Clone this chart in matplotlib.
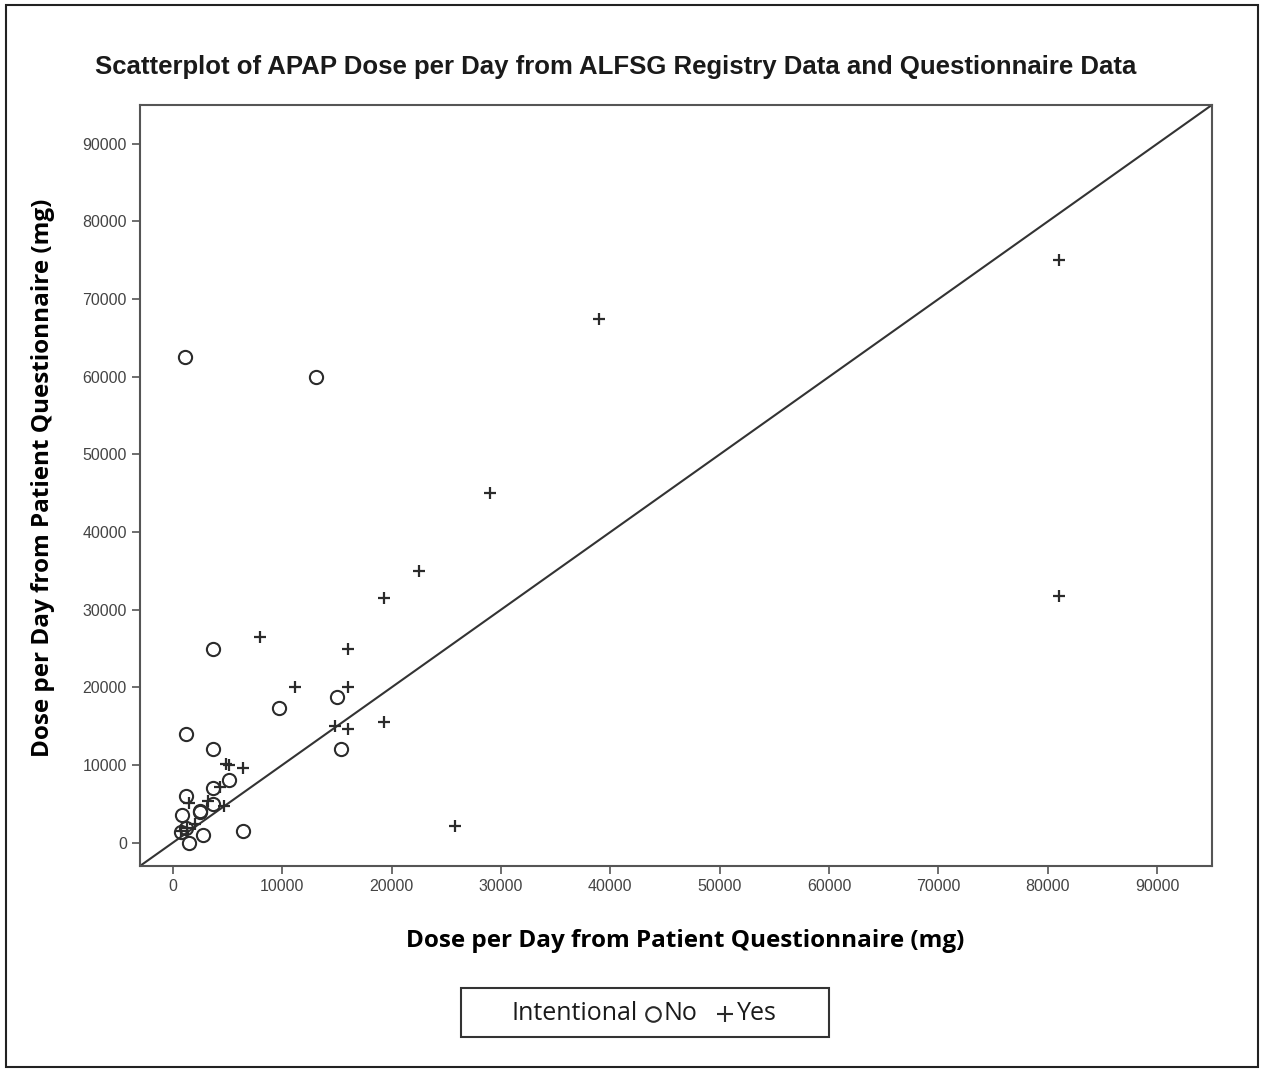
"""
Scatterplot of APAP dose per day: registry vs questionnaire
"""

import matplotlib
matplotlib.use("Agg")
import matplotlib.pyplot as plt
from matplotlib.lines import Line2D
from matplotlib.patches import Rectangle

# Intentional = No (open circles)
no_x = [1100, 13100, 3700, 9700, 15000, 1200, 3700, 15400, 3700, 5100,
        3700, 1200, 6400, 800, 2800, 1500, 2500, 2500, 1200, 700]
no_y = [62600, 60000, 25000, 17300, 18700, 14000, 12000, 12000, 7000, 8100,
        5000, 6000, 1500, 3600, 1000, 0, 4100, 4000, 1900, 1400]

# Intentional = Yes (plus)
yes_x = [81000, 39000, 29000, 22500, 19300, 81000, 8000, 16000, 11200, 16000,
         14800, 16000, 19300, 25800, 6400, 4900, 5100, 4300, 3200, 1500,
         4700, 1300, 700, 2000]
yes_y = [75000, 67500, 45000, 35000, 31500, 31800, 26500, 25000, 20100, 20100,
         15000, 14600, 15600, 2200, 9600, 10100, 10000, 7200, 5400, 5100,
         4700, 1900, 1500, 2400]

ticks = [0, 10000, 20000, 30000, 40000, 50000, 60000, 70000, 80000, 90000]
lim = (-3000, 95000)

fig = plt.figure(figsize=(12.65, 10.7), dpi=100)
ax = fig.add_axes([0.1107, 0.1907, 0.8473, 0.7112])

ink = '#2b2b2b'
ax.plot(no_x, no_y, linestyle='none', marker='o', markersize=9.5,
        markerfacecolor='none', markeredgecolor=ink, markeredgewidth=1.5)
ax.plot(yes_x, yes_y, linestyle='none', marker='+', markersize=9,
        color=ink, markeredgewidth=1.6)

# identity line
ax.plot(lim, lim, color='#333333', linewidth=1.5, zorder=1)

ax.set_xlim(lim)
ax.set_ylim(lim)
ax.set_xticks(ticks)
ax.set_yticks(ticks)
ax.tick_params(direction='out', length=6, width=1.2, colors='#555555',
               labelsize=11.5, labelcolor='#444444')
for lab in ax.get_xticklabels() + ax.get_yticklabels():
    lab.set_family('Liberation Sans')
for s in ax.spines.values():
    s.set_color('#555555')
    s.set_linewidth(1.5)

ax.set_xlabel('Dose per Day from Patient Questionnaire (mg)', fontsize=17.5,
              fontweight='bold', family='Open Sans')
ax.set_ylabel('Dose per Day from Patient Questionnaire (mg)', fontsize=17.5,
              fontweight='bold', family='Open Sans')
ax.xaxis.set_label_coords(0.509, -0.083)
ax.yaxis.set_label_coords(-0.079, 0.51)

fig.text(0.487, 0.937, 'Scatterplot of APAP Dose per Day from ALFSG Registry Data and Questionnaire Data',
         ha='center', va='center', fontsize=18.5, fontweight='bold',
         family='Liberation Sans', color='#1a1a1a')

# legend box
fig.add_artist(Rectangle((461 / 1265, 1 - 1037 / 1070), 368 / 1265, 49 / 1070,
                         transform=fig.transFigure, fill=False,
                         edgecolor='#333333', linewidth=1.5))
ly = 1 - 1013 / 1070
fig.text(512 / 1265, ly, 'Intentional', ha='left', va='center', fontsize=18,
         family='Open Sans', color='#1a1a1a')
fig.add_artist(Line2D([653 / 1265], [ly - 0.001], transform=fig.transFigure, marker='o',
                      markersize=10.5, markerfacecolor='none', markeredgecolor=ink,
                      markeredgewidth=1.5))
fig.text(663 / 1265, ly, 'No', ha='left', va='center', fontsize=18,
         family='Open Sans', color='#1a1a1a')
fig.add_artist(Line2D([725 / 1265], [ly - 0.001], transform=fig.transFigure, marker='+',
                      markersize=11, color=ink, markeredgewidth=1.5))
fig.text(737 / 1265, ly, 'Yes', ha='left', va='center', fontsize=18,
         family='Open Sans', color='#1a1a1a')

# outer frame
fig.add_artist(Rectangle((6 / 1265, 3 / 1070), 1252 / 1265, 1062 / 1070,
                         transform=fig.transFigure, fill=False,
                         edgecolor='#222222', linewidth=1.5))

fig.savefig('out.png', dpi=100)
